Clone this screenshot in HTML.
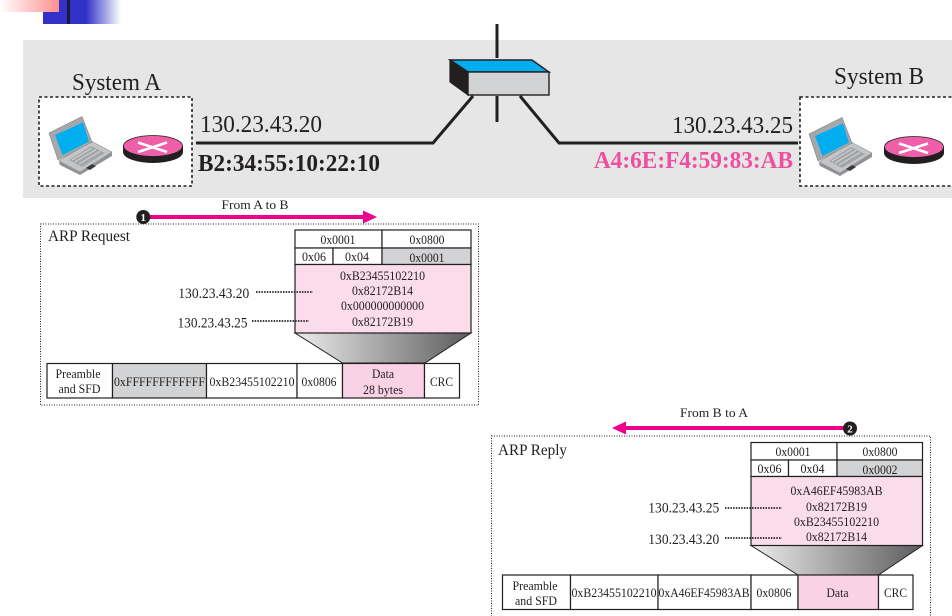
<!DOCTYPE html>
<html><head><meta charset="utf-8"><title>ARP</title>
<style>
html,body{margin:0;padding:0;background:#fff;width:952px;height:616px;overflow:hidden}
svg{display:block}
text{font-family:"Liberation Serif",serif;fill:#231f20}
.s{font-size:13px;text-anchor:middle}
.ip{font-size:14.5px;text-anchor:middle}
.c{fill:#fff;stroke:#231f20;stroke-width:1.2}
.d{fill:none;stroke:#231f20;stroke-width:1;stroke-dasharray:1 1.5}
.dl{fill:none;stroke:#231f20;stroke-width:1.8;stroke-dasharray:1.5 1.2}
.box{fill:#fff;stroke:#231f20;stroke-width:1.6;stroke-dasharray:3 2.5}
</style></head><body>
<svg width="952" height="616" viewBox="0 0 952 616" xmlns="http://www.w3.org/2000/svg">
<defs>
<linearGradient id="pk" x1="0" x2="1" y1="0" y2="0"><stop offset="0" stop-color="#fff"/><stop offset="1" stop-color="#ff8f8f"/></linearGradient>
<linearGradient id="bl" x1="0" x2="1" y1="0" y2="0"><stop offset="0" stop-color="#3232c8"/><stop offset="0.55" stop-color="#3232c8"/><stop offset="1" stop-color="#fff"/></linearGradient>
<linearGradient id="tr" x1="0" x2="1" y1="0" y2="0"><stop offset="0" stop-color="#ececec"/><stop offset="1" stop-color="#5c5c5e"/></linearGradient>
<g id="lap">
<polygon points="59,162 92,142 112,152 112,156 80,175 60,165" fill="#8f9194"/>
<polygon points="59,161 91,141 112,152 80,172" fill="#c3c5c7" stroke="#8f9194" stroke-width=".6"/>
<polygon points="49,133 82,116.500 92,142 58,160" fill="#a5a7aa" stroke="#808285" stroke-width=".6"/>
<polygon points="55,135 83,122.500 89,141.500 62.500,155" fill="#00aeef"/>
<polygon points="69,160 91,146 105,153 82,167" fill="#a3a5a8"/>
<g stroke="#dcdddf" stroke-width=".8"><line x1="72" y1="160" x2="92" y2="148"/><line x1="75" y1="162" x2="96" y2="149.500"/><line x1="79" y1="164" x2="100" y2="151.500"/></g>
<polygon points="86,168 92,164 96,166 90,170" fill="#3a3a3c"/>
</g>
<g id="rt">
<ellipse cx="153" cy="152" rx="30" ry="11" fill="#231f20"/>
<rect x="123" y="146" width="60" height="6" fill="#231f20"/>
<ellipse cx="153" cy="146" rx="29.500" ry="10.500" fill="#ee5fa7" stroke="#231f20" stroke-width=".8"/>
<g stroke="#fff" stroke-width="2.500"><line x1="138" y1="142.500" x2="167" y2="152"/><line x1="138" y1="152" x2="167" y2="142.500"/></g>
</g>
</defs>

<!-- corner decoration -->
<rect x="43" y="0" width="78" height="24" fill="url(#bl)"/>
<rect x="0" y="0" width="59" height="12" fill="url(#pk)"/>
<rect x="67" y="0" width="3" height="24" fill="#1a1a30"/>

<!-- band -->
<rect x="23" y="40" width="929" height="158" fill="#e6e6e6"/>

<!-- network lines -->
<g fill="none" stroke="#231f20" stroke-width="3">
<polyline points="196,143 433,143 473,96"/>
<polyline points="520,96 559,143 798,143"/>
</g>
<line x1="497" y1="24" x2="497" y2="58" stroke="#231f20" stroke-width="3"/>
<line x1="497" y1="96" x2="497" y2="122" stroke="#231f20" stroke-width="3"/>

<!-- switch -->
<polygon points="450,60 532,60 549,72 468,72" fill="#00aeef" stroke="#231f20" stroke-width="1.400"/>
<polygon points="450,60 468,72 468,95 450,82" fill="#231f20" stroke="#231f20" stroke-width="1.200"/>
<rect x="468" y="72" width="81" height="23" fill="#d1d3d4" stroke="#231f20" stroke-width="1.400"/>

<!-- systems -->
<rect class="box" x="39" y="97" width="153" height="89"/>
<rect class="box" x="800" y="97" width="160" height="89"/>
<use href="#lap"/><use href="#rt"/>
<use href="#lap" x="760" y="1"/><use href="#rt" x="761" y="1"/>

<text x="72" y="90" font-size="24" textLength="89" lengthAdjust="spacingAndGlyphs">System A</text>
<text x="834" y="84" font-size="24" textLength="90" lengthAdjust="spacingAndGlyphs">System B</text>
<text x="200" y="132" font-size="24" textLength="122" lengthAdjust="spacingAndGlyphs">130.23.43.20</text>
<text x="672" y="133" font-size="24" textLength="121" lengthAdjust="spacingAndGlyphs">130.23.43.25</text>
<text x="198" y="171" font-size="24" font-weight="bold" textLength="182" lengthAdjust="spacingAndGlyphs">B2:34:55:10:22:10</text>
<text x="594" y="168" font-size="24" font-weight="bold" textLength="199" lengthAdjust="spacingAndGlyphs" style="fill:#ee4f9f">A4:6E:F4:59:83:AB</text>

<!-- ARP request -->
<text class="s" x="255" y="209" textLength="67" lengthAdjust="spacingAndGlyphs">From A to B</text>
<rect class="d" x="40.500" y="224" width="438" height="181"/>
<line x1="145" y1="217" x2="366" y2="217" stroke="#ec008c" stroke-width="4"/>
<polygon points="363,210.500 377,217 363,223.500" fill="#ec008c"/>
<circle cx="143.300" cy="217" r="7" fill="#231f20"/>
<text x="143.300" y="221" font-size="11" font-weight="bold" text-anchor="middle" style="fill:#fff">1</text>
<text x="48" y="241" font-size="15.500" textLength="82" lengthAdjust="spacingAndGlyphs">ARP Request</text>

<polygon points="295,333 471,333 425,363 342.500,363" fill="url(#tr)" stroke="#231f20"/>
<rect class="c" x="295" y="230" width="87" height="18"/>
<rect class="c" x="382" y="230" width="89" height="18"/>
<rect class="c" x="295" y="248" width="38" height="16.500"/>
<rect class="c" x="333" y="248" width="49" height="16.500"/>
<rect class="c" x="382" y="248" width="89" height="16.500" style="fill:#d1d3d4"/>
<rect class="c" x="295" y="264.500" width="176" height="68.500" style="fill:#fbdcea"/>
<text class="s" x="338" y="244" textLength="35" lengthAdjust="spacingAndGlyphs">0x0001</text>
<text class="s" x="427" y="244" textLength="35" lengthAdjust="spacingAndGlyphs">0x0800</text>
<text class="s" x="314" y="261" textLength="24" lengthAdjust="spacingAndGlyphs">0x06</text>
<text class="s" x="357" y="261" textLength="24" lengthAdjust="spacingAndGlyphs">0x04</text>
<text class="s" x="427" y="262" textLength="35" lengthAdjust="spacingAndGlyphs">0x0001</text>
<text class="s" x="382.500" y="280" textLength="85" lengthAdjust="spacingAndGlyphs">0xB23455102210</text>
<text class="s" x="382.500" y="295" textLength="61" lengthAdjust="spacingAndGlyphs">0x82172B14</text>
<text class="s" x="382.500" y="310" textLength="83" lengthAdjust="spacingAndGlyphs">0x000000000000</text>
<text class="s" x="382.500" y="326" textLength="61" lengthAdjust="spacingAndGlyphs">0x82172B19</text>
<text class="ip" x="213.800" y="298" textLength="71" lengthAdjust="spacingAndGlyphs">130.23.43.20</text>
<text class="ip" x="212.500" y="327.500" textLength="70" lengthAdjust="spacingAndGlyphs">130.23.43.25</text>
<line class="dl" x1="256" y1="292" x2="313" y2="292"/>
<line class="dl" x1="252" y1="321" x2="309" y2="321"/>

<rect class="c" x="47" y="363.500" width="65.500" height="34.500"/>
<rect class="c" x="112.500" y="363.500" width="94" height="34.500" style="fill:#d1d3d4"/>
<rect class="c" x="206.500" y="363.500" width="90.500" height="34.500"/>
<rect class="c" x="297" y="363.500" width="45.500" height="34.500"/>
<rect class="c" x="342.500" y="363.500" width="82" height="34.500" style="fill:#f9d2e5"/>
<rect class="c" x="424.500" y="363.500" width="35" height="34.500"/>
<text class="s" x="78" y="378" textLength="45" lengthAdjust="spacingAndGlyphs">Preamble</text>
<text class="s" x="79.500" y="393" textLength="42" lengthAdjust="spacingAndGlyphs">and SFD</text>
<text class="s" x="159.500" y="386" textLength="91" lengthAdjust="spacingAndGlyphs">0xFFFFFFFFFFFF</text>
<text class="s" x="252" y="386" textLength="85" lengthAdjust="spacingAndGlyphs">0xB23455102210</text>
<text class="s" x="319" y="386" textLength="35" lengthAdjust="spacingAndGlyphs">0x0806</text>
<text class="s" x="383" y="378" textLength="22" lengthAdjust="spacingAndGlyphs">Data</text>
<text class="s" x="383" y="394" textLength="40" lengthAdjust="spacingAndGlyphs">28 bytes</text>
<text class="s" x="441.500" y="386" textLength="23" lengthAdjust="spacingAndGlyphs">CRC</text>

<!-- ARP reply -->
<text class="s" x="714" y="417" textLength="68" lengthAdjust="spacingAndGlyphs">From B to A</text>
<rect class="d" x="491.500" y="436" width="439" height="190"/>
<line x1="622" y1="428" x2="848" y2="428" stroke="#ec008c" stroke-width="4"/>
<polygon points="626,421.500 612,428 626,434.500" fill="#ec008c"/>
<circle cx="850" cy="428.500" r="7" fill="#231f20"/>
<text x="850" y="432.500" font-size="11" font-weight="bold" text-anchor="middle" style="fill:#fff">2</text>
<text x="498" y="455" font-size="15.500" textLength="69" lengthAdjust="spacingAndGlyphs">ARP Reply</text>

<polygon points="751,545.500 922.500,545.500 878.500,575 798,575" fill="url(#tr)" stroke="#231f20"/>
<rect class="c" x="751" y="442.500" width="86" height="17.500"/>
<rect class="c" x="837" y="442.500" width="85.500" height="17.500"/>
<rect class="c" x="751" y="460" width="37.500" height="16.500"/>
<rect class="c" x="788.500" y="460" width="48.500" height="16.500"/>
<rect class="c" x="837" y="460" width="85.500" height="16.500" style="fill:#d1d3d4"/>
<rect class="c" x="751" y="476.500" width="171.500" height="69" style="fill:#fbdcea"/>
<text class="s" x="793" y="456" textLength="35" lengthAdjust="spacingAndGlyphs">0x0001</text>
<text class="s" x="880" y="456" textLength="35" lengthAdjust="spacingAndGlyphs">0x0800</text>
<text class="s" x="769.500" y="473" textLength="24" lengthAdjust="spacingAndGlyphs">0x06</text>
<text class="s" x="812.500" y="473" textLength="24" lengthAdjust="spacingAndGlyphs">0x04</text>
<text class="s" x="880" y="474" textLength="35" lengthAdjust="spacingAndGlyphs">0x0002</text>
<text class="s" x="836.500" y="495" textLength="92" lengthAdjust="spacingAndGlyphs">0xA46EF45983AB</text>
<text class="s" x="836.500" y="511" textLength="61" lengthAdjust="spacingAndGlyphs">0x82172B19</text>
<text class="s" x="836.500" y="526" textLength="85" lengthAdjust="spacingAndGlyphs">0xB23455102210</text>
<text class="s" x="836.500" y="541" textLength="61" lengthAdjust="spacingAndGlyphs">0x82172B14</text>
<text class="ip" x="683.800" y="512.700" textLength="71" lengthAdjust="spacingAndGlyphs">130.23.43.25</text>
<text class="ip" x="683.800" y="544" textLength="71" lengthAdjust="spacingAndGlyphs">130.23.43.20</text>
<line class="dl" x1="725" y1="508" x2="782" y2="508"/>
<line class="dl" x1="725" y1="538" x2="782" y2="538"/>

<rect class="c" x="502.500" y="575" width="68" height="34.500"/>
<rect class="c" x="570.500" y="575" width="87.500" height="34.500"/>
<rect class="c" x="658" y="575" width="93" height="34.500"/>
<rect class="c" x="751" y="575" width="47" height="34.500"/>
<rect class="c" x="798" y="575" width="80.500" height="34.500" style="fill:#f9d2e5"/>
<rect class="c" x="878.500" y="575" width="34.500" height="34.500"/>
<text class="s" x="535" y="590" textLength="45" lengthAdjust="spacingAndGlyphs">Preamble</text>
<text class="s" x="536" y="605" textLength="42" lengthAdjust="spacingAndGlyphs">and SFD</text>
<text class="s" x="614" y="597" textLength="85" lengthAdjust="spacingAndGlyphs">0xB23455102210</text>
<text class="s" x="704" y="597" textLength="91" lengthAdjust="spacingAndGlyphs">0xA46EF45983AB</text>
<text class="s" x="774" y="597" textLength="35" lengthAdjust="spacingAndGlyphs">0x0806</text>
<text class="s" x="837.500" y="597" textLength="22" lengthAdjust="spacingAndGlyphs">Data</text>
<text class="s" x="895.500" y="597" textLength="23" lengthAdjust="spacingAndGlyphs">CRC</text>
</svg>
</body></html>
